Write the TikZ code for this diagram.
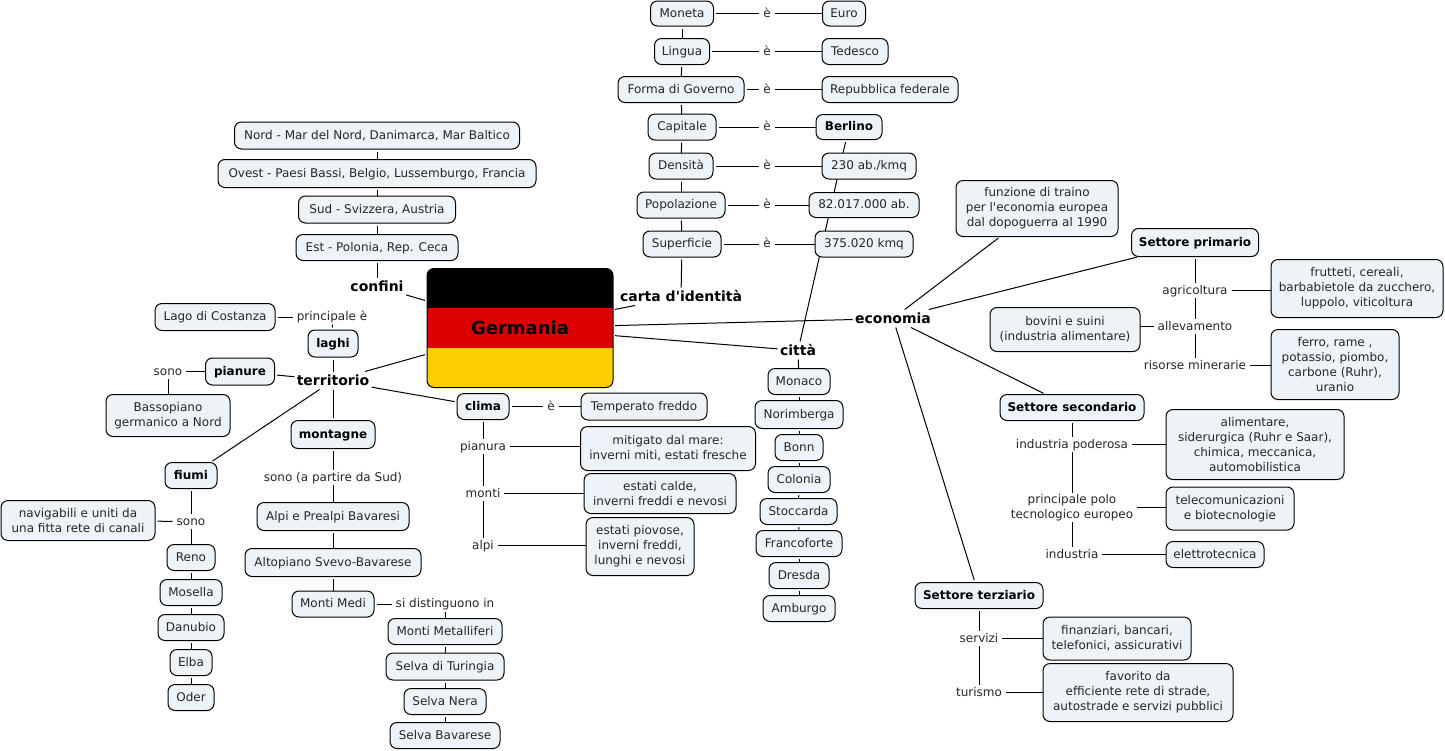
\documentclass[tikz,border=0pt]{standalone}
\usepackage{fontspec}
\setmainfont[Ligatures=TeXOff]{DejaVu Sans}
\usetikzlibrary{backgrounds}
\definecolor{boxfill}{HTML}{EDF3F6}
\definecolor{flagred}{HTML}{DD0000}
\definecolor{flaggold}{HTML}{FFCE00}
\newcommand{\bx}[6][]{\node[cbox,minimum width=#4pt,minimum height=#5pt,#1] (#6) at (#2,#3)}
\newcommand{\lb}[4][]{\node[lab,#1] (#4) at (#2,#3)}
\newcommand{\hd}[3]{\node[head] (#3) at (#1,#2)}
\tikzset{
  cbox/.style={draw=black,fill=boxfill,rounded corners=7pt,line width=1pt,align=center,
    font=\fontsize{12}{15}\selectfont,inner sep=0pt,outer sep=0pt,text=black!85,
    text height=9.7pt,text depth=2.3pt},
  multi/.style={text height=,text depth=},
  bbox/.style={font=\fontsize{12}{15}\selectfont\bfseries,text=black},
  lab/.style={align=center,font=\fontsize{12}{15}\selectfont,inner sep=1pt,outer xsep=3pt,outer ysep=0.5pt,
    text=black!85,text height=9.7pt,text depth=2.3pt},
  head/.style={align=center,font=\fontsize{14}{17}\selectfont\bfseries,inner sep=1pt,outer sep=1.5pt,
    text height=11.5pt,text depth=1.5pt},
  link/.style={draw=black,line width=1pt},
  srcbox/.style={link,shorten <=2.5pt},
}
\begin{document}
\begin{tikzpicture}[x=1pt,y=-1pt]
\useasboundingbox (0,0) rectangle (1445,750);
\begin{scope}[yshift=-0.5pt]
% root
\node[draw=black,line width=1pt,rounded corners=7pt,minimum width=186pt,minimum height=119pt,inner sep=0pt,outer sep=2pt,
  font=\fontsize{18}{20}\selectfont\bfseries,
  path picture={
    \fill[black,sharp corners] (path picture bounding box.north west) rectangle ([yshift=-39.5pt]path picture bounding box.north east);
    \fill[flagred,sharp corners] ([yshift=-39.5pt]path picture bounding box.north west) rectangle ([yshift=40pt]path picture bounding box.south east);
    \fill[flaggold,sharp corners] ([yshift=40pt]path picture bounding box.south west) rectangle (path picture bounding box.south east);
  }] (root) at (520,327.5) {Germania};
% concepts
\hd{377}{286}{confini}{confini};
\hd{681}{296}{carta}{carta d'identità};
\hd{893}{318}{economia}{economia};
\hd{798}{350}{citta}{città};
\hd{333}{380}{territorio}{territorio};
% identity card
\bx{682}{13}{63}{25}{moneta}{Moneta};
\bx{844}{13}{43}{25}{euro}{Euro};
\bx{682}{51}{55}{26}{lingua}{Lingua};
\bx{855}{51}{66}{26}{tedesco}{Tedesco};
\bx{681}{89}{126}{26}{forma}{Forma di Governo};
\bx{890}{89}{136}{26}{repub}{Repubblica federale};
\bx{682}{126.5}{68}{26}{capitale}{Capitale};
\bx[bbox]{849}{126.5}{66}{25}{berlino}{Berlino};
\bx{681}{165.5}{64}{26}{densita}{Densità};
\bx{869}{165.5}{94}{26}{abkmq}{230 ab./kmq};
\bx{681}{204.5}{88}{26}{popol}{Popolazione};
\bx{864}{204.5}{110}{25}{abit}{82.017.000 ab.};
\bx{682}{243.5}{78}{26}{superf}{Superficie};
\bx{864}{243.5}{98}{26}{kmq}{375.020 kmq};
\lb{767}{13}{e1}{è};
\lb{767}{51}{e2}{è};
\lb{767}{89}{e3}{è};
\lb{767}{126.5}{e4}{è};
\lb{767}{165.5}{e5}{è};
\lb{767}{204.5}{e6}{è};
\lb{767}{243.5}{e7}{è};
% borders
\bx{377}{135}{285}{27}{nord}{Nord - Mar del Nord, Danimarca, Mar Baltico};
\bx{377}{173}{318}{28}{ovest}{Ovest - Paesi Bassi, Belgio, Lussemburgo, Francia};
\bx{377}{209}{157}{27}{sud}{Sud - Svizzera, Austria};
\bx{377}{247}{162}{26}{est}{Est - Polonia, Rep. Ceca};
% territory
\bx{215}{316.5}{120}{27}{lago}{Lago di Costanza};
\lb{332}{316.5}{princ}{principale è};
\bx[bbox]{333}{343}{50}{27}{laghi}{laghi};
\bx[bbox]{240}{371}{69}{27}{pianure}{pianure};
\lb{168}{371}{sono1}{sono};
\bx[multi]{168}{415}{124}{42}{basso}{Bassopiano\\germanico a Nord};
\bx[bbox]{483}{406}{52}{26}{clima}{clima};
\lb{551}{406}{e8}{è};
\bx{644}{406}{126}{27}{tempe}{Temperato freddo};
\lb{483}{446}{lpian}{pianura};
\bx[multi]{668}{448}{175}{44}{mitig}{mitigato dal mare:\\inverni miti, estati fresche};
\lb{483}{493}{lmonti}{monti};
\bx[multi]{660}{493}{152}{40}{calde}{estati calde,\\inverni freddi e nevosi};
\lb{483}{545}{lalpi}{alpi};
\bx[multi]{640}{546}{108}{58}{piov}{estati piovose,\\inverni freddi,\\lunghi e nevosi};
\bx[bbox]{333}{434}{84}{28}{mont}{montagne};
\lb{333}{477}{sonod}{sono (a partire da Sud)};
\bx{333}{516}{152}{28}{alpi}{Alpi e Prealpi Bavaresi};
\bx{333}{562}{176}{28}{altop}{Altopiano Svevo-Bavarese};
\bx{333}{603.5}{82}{26}{medi}{Monti Medi};
\lb{445}{603.5}{disting}{si distinguono in};
\bx{445}{631}{114}{26}{metal}{Monti Metalliferi};
\bx{445}{666}{118}{27}{turin}{Selva di Turingia};
\bx{445}{701}{82}{26}{nera}{Selva Nera};
\bx{445}{735}{110}{26}{bavar}{Selva Bavarese};
\bx[bbox]{191}{475}{52}{26}{fiumi}{fiumi};
\lb{191}{521}{sono2}{sono};
\bx[multi]{78}{520}{154}{40}{navig}{navigabili e uniti da\\una fitta rete di canali};
\bx{191}{557}{48}{26}{reno}{Reno};
\bx{191}{592}{62}{26}{mosel}{Mosella};
\bx{191}{627}{66}{26}{danub}{Danubio};
\bx{191}{662}{42}{26}{elba}{Elba};
\bx{191}{697}{46}{26}{oder}{Oder};
% cities
\bx{799}{381}{62}{26}{monaco}{Monaco};
\bx{799}{414}{88}{28}{norim}{Norimberga};
\bx{799}{447}{48}{26}{bonn}{Bonn};
\bx{799}{479}{62}{26}{colon}{Colonia};
\bx{798.5}{511}{77}{26}{stocc}{Stoccarda};
\bx{799}{543}{86}{26}{franc}{Francoforte};
\bx{799}{575}{60}{26}{dresd}{Dresda};
\bx{799}{608}{72}{26}{ambur}{Amburgo};
% economy
\bx[multi]{1037}{208}{162}{56}{funz}{funzione di traino\\per l'economia europea\\dal dopoguerra al 1990};
\bx[bbox]{1195}{242}{127}{28}{primario}{Settore primario};
\lb{1195}{290}{agri}{agricoltura};
\bx[multi]{1357}{288}{172}{58}{frut}{frutteti, cereali,\\barbabietole da zucchero,\\luppolo, viticoltura};
\lb{1195}{326}{alle}{allevamento};
\bx[multi]{1065}{329}{150}{44}{bovini}{bovini e suini\\(industria alimentare)};
\lb{1195}{365}{riso}{risorse minerarie};
\bx[multi]{1335}{364}{128}{70}{ferro}{ferro, rame ,\\potassio, piombo,\\carbone (Ruhr),\\uranio};
\bx[bbox]{1072}{407}{144}{26}{second}{Settore secondario};
\lb{1072}{444}{ipod}{industria poderosa};
\bx[multi]{1255}{444}{178}{70}{alim}{alimentare,\\siderurgica (Ruhr e Saar),\\chimica, meccanica,\\automobilistica};
\lb[multi]{1072}{507}{polo}{principale polo\\tecnologico europeo};
\bx[multi]{1230}{508}{128}{43}{telec}{telecomunicazioni\\e biotecnologie};
\lb{1072}{554}{indu}{industria};
\bx{1215}{554}{98}{26}{elett}{elettrotecnica};
\bx[bbox]{979}{595}{128}{26}{terz}{Settore terziario};
\lb{979}{638}{serv}{servizi};
\bx[multi]{1117}{638}{148}{43}{finan}{finanziari, bancari,\\telefonici, assicurativi};
\lb{979}{692}{turi}{turismo};
\bx[multi]{1138}{692}{190}{58}{favor}{favorito da\\efficiente rete di strade,\\autostrade e servizi pubblici};
% connectors
\begin{pgfonlayer}{background}
% leaving a box: a small gap at the start
\foreach \a/\b in {
  moneta/lingua,lingua/forma,forma/capitale,capitale/densita,densita/popol,popol/superf,superf/carta,
  moneta/e1,lingua/e2,forma/e3,capitale/e4,densita/e5,popol/e6,superf/e7,
  berlino/citta,
  nord/ovest,ovest/sud,sud/est,est/confini,
  lago/princ,laghi/princ,laghi/territorio,pianure/territorio,
  clima/e8,clima/lpian,
  mont/sonod,alpi/altop,altop/medi,medi/disting,
  metal/turin,turin/nera,nera/bavar,
  fiumi/sono2,navig/sono2,reno/mosel,mosel/danub,danub/elba,elba/oder,
  monaco/norim,norim/bonn,bonn/colon,colon/stocc,stocc/franc,franc/dresd,dresd/ambur,
  primario/agri,
  second/ipod,terz/serv,
  clima/territorio,mont/territorio,fiumi/territorio,
  funz/economia,primario/economia,second/economia,terz/economia}
  {\draw[srcbox] (\a) -- (\b);}
% leaving a linking phrase or a heading: the line runs up to the target
\foreach \a/\b in {
  confini/root,carta/root,economia/root,citta/root,territorio/root,
  e1/euro,e2/tedesco,e3/repub,e4/berlino,e5/abkmq,e6/abit,e7/kmq,
  sono1/pianure,sono1/basso,
  e8/tempe,lpian/lmonti,lmonti/lalpi,
  sonod/alpi,disting/metal,
  sono2/reno,
  citta/monaco,
  agri/alle,alle/riso,
  ipod/polo,polo/indu,
  serv/turi}
  {\draw[link] (\a) -- (\b);}
% level lines from a linking phrase to the box on its right
\foreach \a/\b in {
  lpian/mitig,lmonti/calde,lalpi/piov,
  agri/frut,riso/ferro,
  ipod/alim,polo/telec,indu/elett,
  serv/finan,turi/favor}
  {\draw[link] (\a) -- (\a -| \b.west);}
\draw[link] (alle) -- (alle -| bovini.east);
\end{pgfonlayer}
\end{scope}
\end{tikzpicture}
\end{document}
